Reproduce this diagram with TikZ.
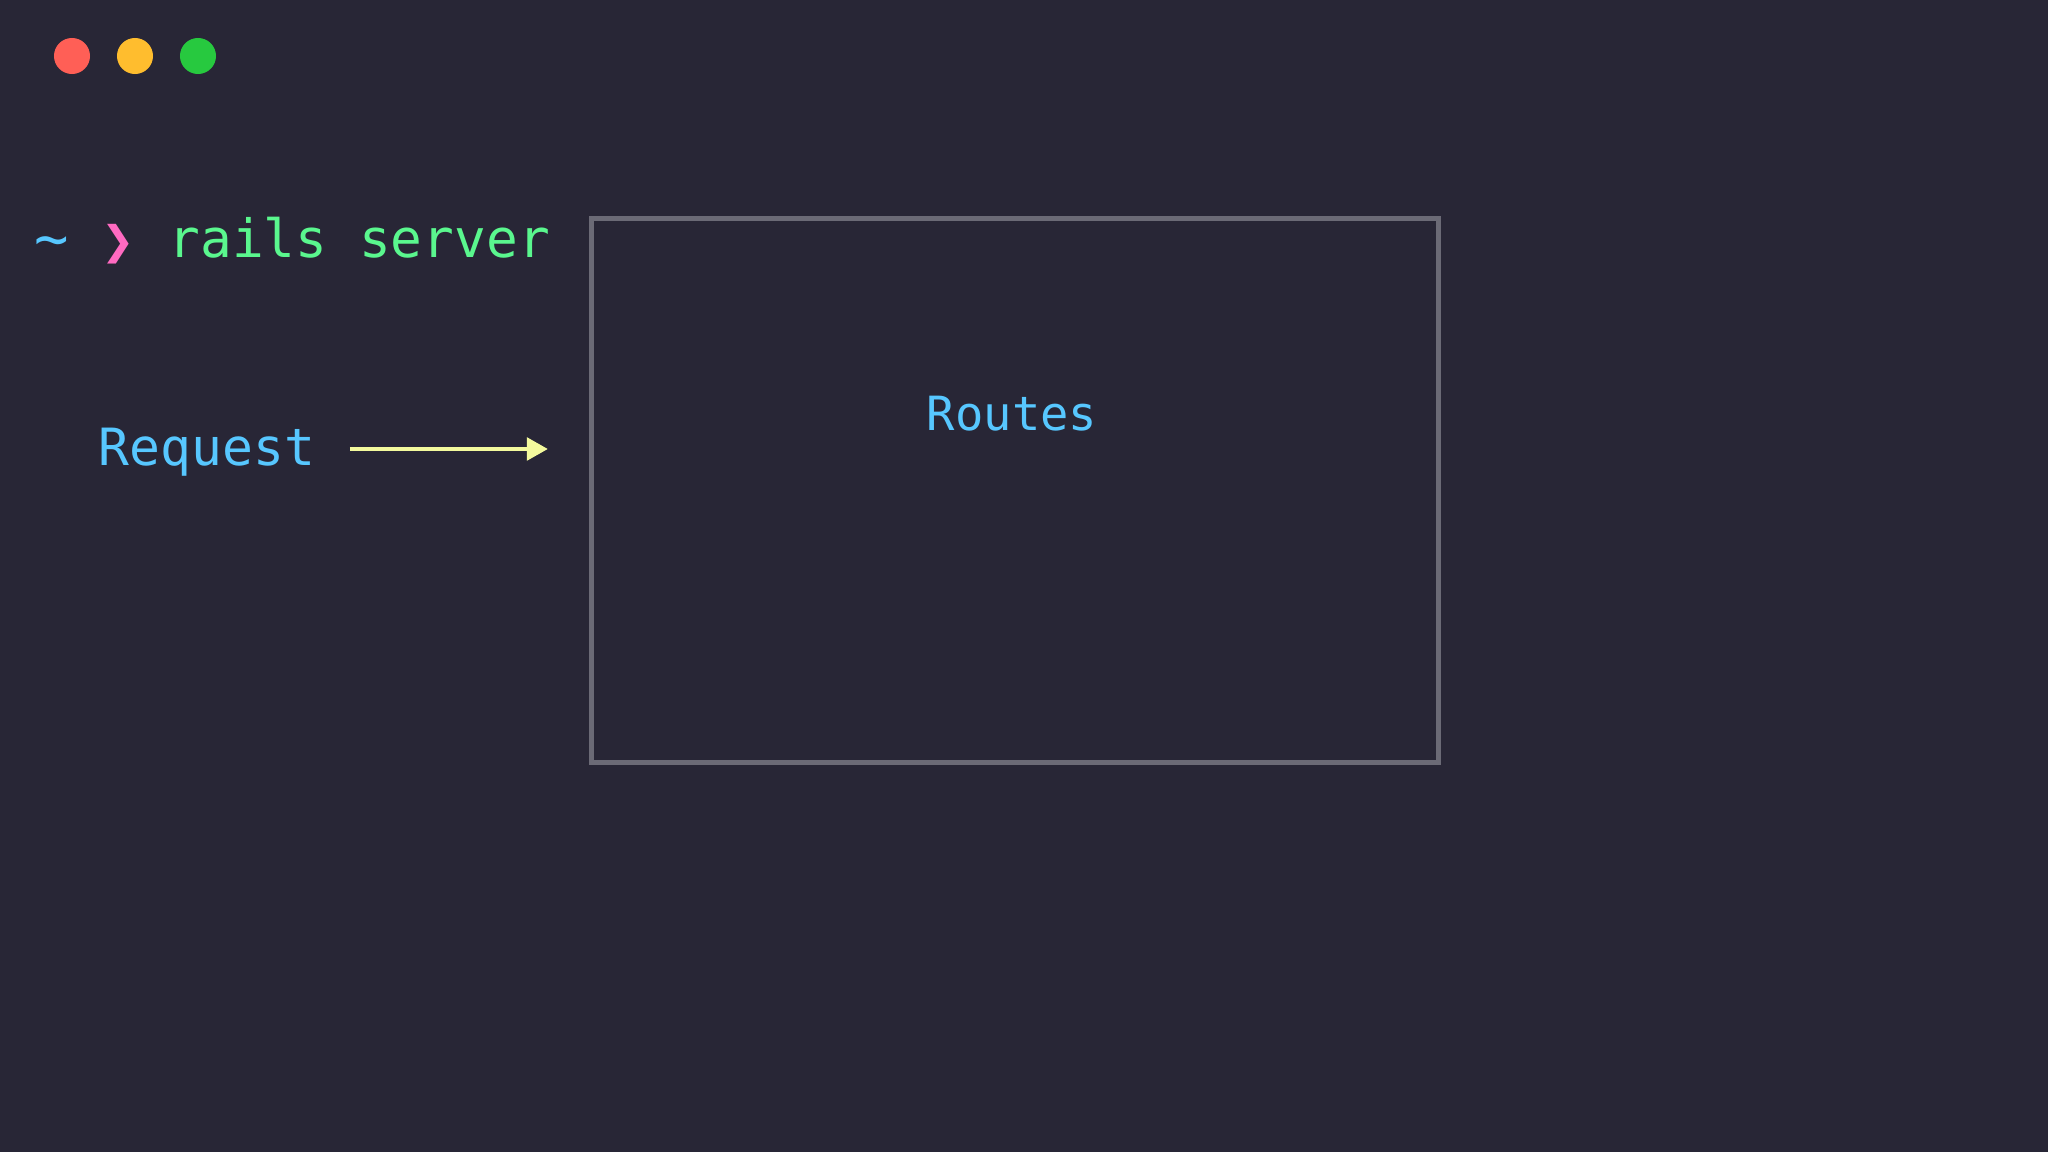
\documentclass[tikz,border=0pt]{standalone}
\usepackage{fontspec}
\setmonofont{DejaVu Sans Mono}
\newfontfamily\dingfont{DejaVu Sans}
\usetikzlibrary{arrows.meta}

\definecolor{termbg}{HTML}{282636}
\definecolor{termred}{HTML}{FF5F56}
\definecolor{termyellow}{HTML}{FFBD2E}
\definecolor{termgreen}{HTML}{27C93F}
\definecolor{snazzyblue}{HTML}{57C7FF}
\definecolor{snazzypink}{HTML}{FF6AC1}
\definecolor{snazzygreen}{HTML}{5AF78E}
\definecolor{snazzyyellow}{HTML}{F3F99D}
\definecolor{boxgray}{HTML}{6B6A76}

\tikzset{
  cmd/.style={anchor=base west, inner sep=0pt, font=\ttfamily\fontsize{15}{18}\selectfont},
  label/.style={inner sep=0pt, font=\ttfamily\fontsize{14.6}{18}\selectfont, text=snazzyblue},
  flow/.style={draw=snazzyyellow, line width=1.4pt, -{Triangle[length=0.21cm,width=0.22cm]}},
  serverbox/.style={draw=boxgray, line width=1.4pt, rectangle, inner sep=0pt}
}

\begin{document}
\begin{tikzpicture}[x=0.01cm, y=-0.01cm]
    % Fondo
    \fill[termbg] (0,0) rectangle (2048,1152);
    \useasboundingbox (0,0) rectangle (2048,1152);

    % Botones de la ventana
    \foreach \c/\x in {termred/72, termyellow/135, termgreen/198}
        \fill[\c] (\x,56) circle (0.18cm);

    % Linea de comandos
    \node[cmd, text=snazzyblue, font=\ttfamily\fontsize{16.3}{18}\selectfont] (tilde) at (34,259) {\textasciitilde};
    \node[cmd, text=snazzypink, font=\dingfont\fontsize{11.3}{14}\selectfont] (chevron) at (101,255) {❯};
    \node[cmd, text=snazzygreen] (cmdline) at (168,258) {rails server};

    % Peticion
    \node[label, anchor=base west] (req) at (98,466) {Request};
    \coordinate (reqhead) at (548,449);
    \draw[flow] (reqhead -| req.east) ++(34,0) -- (reqhead);

    % Caja del servidor
    \node[serverbox, minimum width=8.46cm, minimum height=5.43cm] (server) at (1015,490.5) {};
    \node[label, anchor=base, font=\ttfamily\fontsize{13.4}{16}\selectfont] (routes) at (1012,431) {Routes};
\end{tikzpicture}
\end{document}
